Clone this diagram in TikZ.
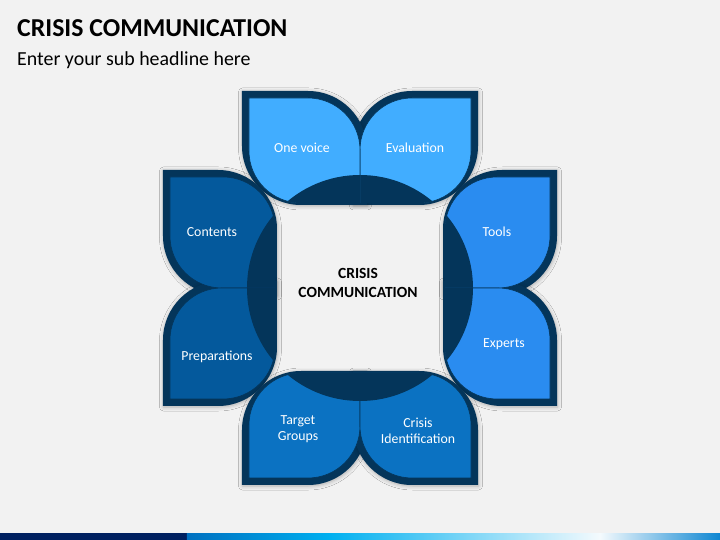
\documentclass[tikz,border=0pt]{standalone}
\usepackage{fontspec}
\setmainfont{Carlito}
\usetikzlibrary{shadows.blur}
\definecolor{bgcol}{HTML}{F2F2F2}
\definecolor{framecol}{HTML}{04355A}
\definecolor{topcol}{HTML}{41ADFF}
\definecolor{rightcol}{HTML}{2A8CF0}
\definecolor{bottomcol}{HTML}{0B72C2}
\definecolor{leftcol}{HTML}{04599C}
\definecolor{stripnavy}{HTML}{002060}
\definecolor{stripblue}{HTML}{0070C0}
\definecolor{stripcyan}{HTML}{00B0F0}
\definecolor{stripwhite}{HTML}{F4FAFD}
\definecolor{stripend}{HTML}{0D86D2}
\newcommand{\petalpath}[2]{(-#1,85-#2) -- (59,85-#2) arc[start angle=-90,end angle=0,radius=52+#1] -- (111+#1,190+#1) -- (52,190+#1) arc[start angle=90,end angle=180,radius=52+#1] -- cycle}
\begin{document}
\begin{tikzpicture}[x=1pt,y=1pt,
    lbl/.style={text=white,font=\fontsize{13.8}{16.5}\selectfont,align=center},
    petalshadow/.style={blur shadow={shadow xshift=0.5pt,shadow yshift=-1pt,shadow blur radius=4pt,shadow opacity=30}}]
    \useasboundingbox (-360,-252) rectangle (360,288);
    \fill[bgcol] (-360,-252) rectangle (360,288);
    \foreach \a/\b/\c/\d in {1/0/0/1,-1/0/0/1,0/1/1/0,0/-1/1/0,0/1/-1/0,0/-1/-1/0,-1/0/0/-1,1/0/0/-1}{
        \begin{scope}[cm={\a,\b,\c,\d,(0,0)}]
            \fill[framecol,petalshadow] \petalpath{7}{2};
        \end{scope}
    }
    \foreach \a/\b/\c/\d/\col in {1/0/0/1/topcol,-1/0/0/1/topcol,0/1/1/0/rightcol,0/-1/1/0/rightcol,0/1/-1/0/leftcol,0/-1/-1/0/leftcol,-1/0/0/-1/bottomcol,1/0/0/-1/bottomcol}{
        \begin{scope}[cm={\a,\b,\c,\d,(0,0)}]
            \filldraw[fill=\col,draw=framecol,line width=0.6] \petalpath{0}{0};
            \begin{scope}
                \clip \petalpath{0}{0};
                \fill[framecol] (0,0) circle (113);
            \end{scope}
        \end{scope}
    }
    \node[lbl] (onevoice) at (-58,140) {One voice};
    \node[lbl] (evaluation) at (55,140) {Evaluation};
    \node[lbl] (contents) at (-148,56) {Contents};
    \node[lbl] (tools) at (137,56) {Tools};
    \node[lbl] (preparations) at (-143,-69) {Preparations};
    \node[lbl] (experts) at (144,-56) {Experts};
    \node[lbl] (targetgroups) at (-62,-141) {Target\\Groups};
    \node[lbl] (identification) at (58,-143) {Crisis\\Identification};
    \node[font=\bfseries\fontsize{15.5}{19}\selectfont,align=center] (centre) at (-2,5) {CRISIS\\COMMUNICATION};
    \node[anchor=base west,inner sep=0,font=\bfseries\fontsize{25.8}{30}\selectfont] (title) at (-343,251) {CRISIS COMMUNICATION};
    \node[anchor=base west,inner sep=0,font=\fontsize{19.9}{24}\selectfont] (subtitle) at (-343,222) {Enter your sub headline here};
    \fill[stripnavy] (-360,-252) rectangle (-173,-245);
    \shade[left color=stripblue,right color=stripcyan] (-173,-252) rectangle (-30,-245);
    \shade[left color=stripcyan,right color=stripwhite] (-30,-252) rectangle (240,-245);
    \shade[left color=stripwhite,right color=stripend] (240,-252) rectangle (360,-245);
\end{tikzpicture}
\end{document}
